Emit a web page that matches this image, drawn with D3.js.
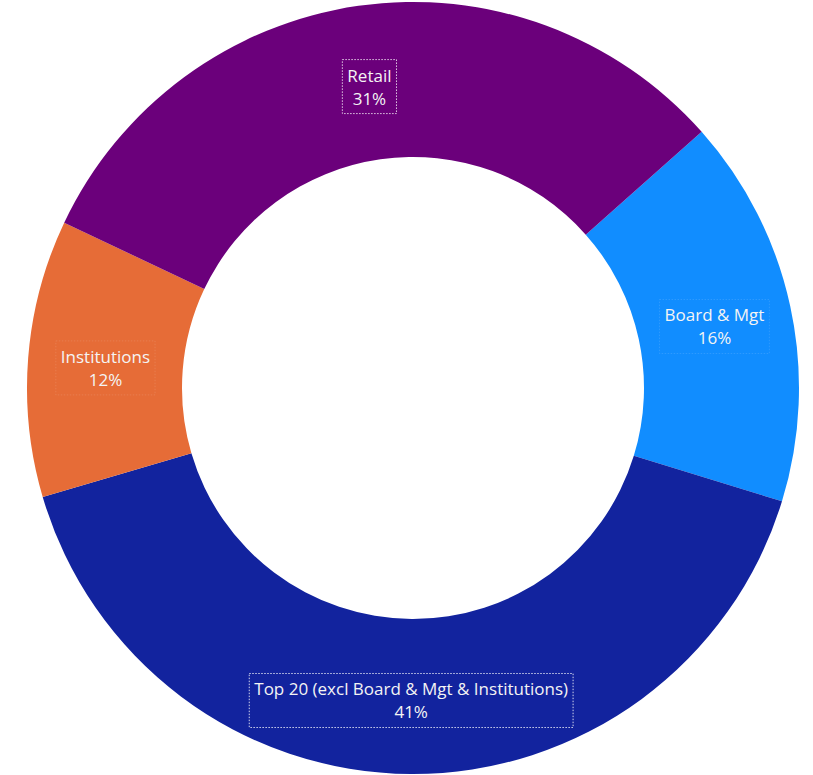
<!DOCTYPE html>
<html>
<head>
<meta charset="utf-8">
<script src="https://cdn.jsdelivr.net/npm/d3@7"></script>
<style>
  body { margin: 0; background: #fff; }
  .slice-label { font-family: 'Segoe UI', 'Open Sans', sans-serif; font-size: 17px; fill: #f4f4f4; }
</style>
</head>
<body>
<svg id="chart"></svg>
<script>
const categories = ['Board & Mgt', 'Top 20 (excl Board & Mgt & Institutions)', 'Institutions', 'Retail'];
const shares = [16.3, 40.7, 11.6, 31.4];
const colors = ['#118DFF', '#12239E', '#E66C37', '#6B007B'];
const outlined = [false, true, false, true];

const width = 813;
const height = 775;
const cx = 413;
const cy = 388;
const outerR = 386;
const innerR = 231;
const startDeg = 48.4;

const svg = d3.select('#chart')
  .attr('width', width)
  .attr('height', height);

const g = svg.append('g')
  .attr('transform', `translate(${cx},${cy})`);

const rows = categories.map((c, i) => ({ name: c, value: shares[i], color: colors[i], outlined: outlined[i] }));

const pie = d3.pie()
  .sort(null)
  .value((d) => d.value)
  .startAngle(startDeg * Math.PI / 180)
  .endAngle(startDeg * Math.PI / 180 + 2 * Math.PI);

const arc = d3.arc()
  .innerRadius(innerR)
  .outerRadius(outerR);

const arcs = g.selectAll('.slice')
  .data(pie(rows))
  .enter()
  .append('g')
  .attr('class', 'slice');

arcs.append('path')
  .attr('d', arc)
  .attr('fill', (d) => d.data.color);

const total = d3.sum(shares);

arcs.each(function (d) {
  const [x, y] = arc.centroid(d);
  const grp = d3.select(this).append('g').attr('transform', `translate(${x},${y})`);
  const t = grp.append('text')
    .attr('class', 'slice-label')
    .attr('text-anchor', 'middle');
  t.append('tspan').attr('x', 0).attr('y', -1).text(d.data.name);
  t.append('tspan').attr('x', 0).attr('y', 22).text(`${Math.round(d.data.value / total * 100)}%`);

  const bb = t.node().getBBox();
  grp.insert('rect', 'text')
    .attr('x', bb.x - 5)
    .attr('y', bb.y - 4)
    .attr('width', bb.width + 10)
    .attr('height', bb.height + 8)
    .attr('fill', 'none')
    .attr('stroke', '#fff')
    .attr('stroke-opacity', d.data.outlined ? 0.8 : 0.12)
    .attr('stroke-width', 1)
    .attr('stroke-dasharray', '1.5,1.5');
});
</script>
</body>
</html>
